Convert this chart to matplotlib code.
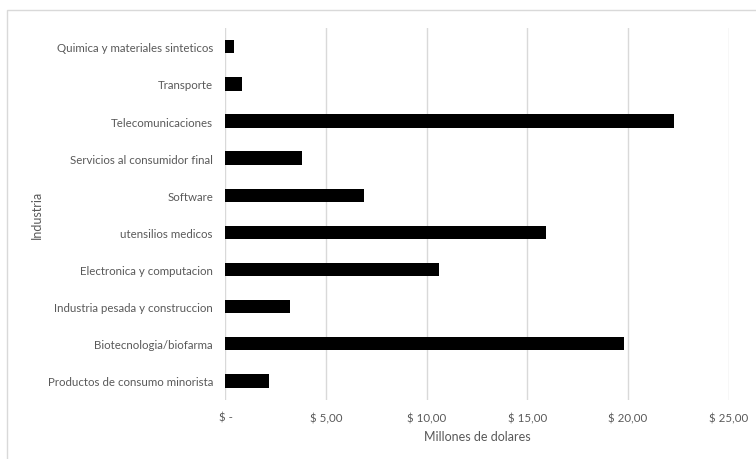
import matplotlib.pyplot as plt
from matplotlib.patches import Rectangle
from matplotlib.ticker import FuncFormatter

industries = ['Productos de consumo minorista', 'Biotecnologia/biofarma',
              'Industria pesada y construccion', 'Electronica y computacion',
              'utensilios medicos', 'Software', 'Servicios al consumidor final',
              'Telecomunicaciones', 'Transporte', 'Quimica y materiales sinteticos']
values = [2.15, 19.8, 3.2, 10.6, 15.9, 6.9, 3.8, 22.3, 0.8, 0.4]
xticks = [0, 5, 10, 15, 20, 25]

plt.rcParams['font.family'] = ['Lato', 'DejaVu Sans']
text_color = '#595959'

fig = plt.figure(figsize=(7.56, 4.60), dpi=100)
ax = fig.add_axes([225.5 / 756, 59.5 / 460, (728.7 - 225.5) / 756, 371.3 / 460])

# light frame around the chart area
fig.patches.append(Rectangle((7 / 756, -0.1), 1.1, 1 - 11 / 460 + 0.1,
                             transform=fig.transFigure, fill=False,
                             edgecolor='#d9d9d9', linewidth=1))

ax.barh(range(len(industries)), values, height=0.36, color='black', zorder=3)

ax.set_xlim(0, 25)
ax.set_ylim(-0.5, len(industries) - 0.5)
ax.set_xticks(xticks)
ax.xaxis.set_major_formatter(FuncFormatter(
    lambda v, p: '$ -' if v == 0 else '$ ' + f'{v:.2f}'.replace('.', ',')))
ax.set_yticks(range(len(industries)))
ax.set_yticklabels(industries)
ax.tick_params(axis='both', length=0, colors=text_color, labelsize=8.3)
ax.tick_params(axis='x', pad=9)
ax.tick_params(axis='y', pad=9)

ax.grid(axis='x', color='#d9d9d9', linewidth=1, zorder=0)
for s in ax.spines.values():
    s.set_visible(False)

ax.set_xlabel('Millones de dolares', color=text_color, fontsize=9, labelpad=5)
fig.text(37 / 756, 1 - 215 / 460, 'Industria', rotation=90, color=text_color,
         fontsize=9, ha='center', va='center')

fig.savefig('out.png', dpi=100)
